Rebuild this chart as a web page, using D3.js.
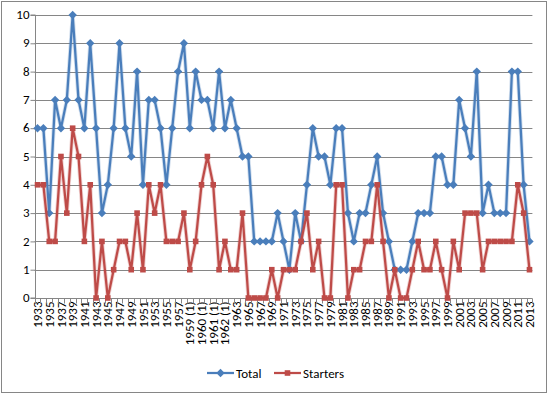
<!DOCTYPE html>
<html>
<head>
<meta charset="utf-8">
<script src="https://cdn.jsdelivr.net/npm/d3@7/dist/d3.min.js"></script>
<style>
  body { margin: 0; background: #fff; }
  text { font-family: Carlito, Calibri, Lato, sans-serif; fill: #000; }
</style>
</head>
<body>
<svg id="chart" width="549" height="395"></svg>
<script>
// categories (two All-Star games a year in 1959-1962)
const categories = [
  "1933","1934","1935","1936","1937","1938","1939","1940","1941","1942",
  "1943","1944","1945","1946","1947","1948","1949","1950","1951","1952",
  "1953","1954","1955","1956","1957","1958",
  "1959 (1)","1959 (2)","1960 (1)","1960 (2)","1961 (1)","1961 (2)","1962 (1)","1962 (2)",
  "1963","1964","1965","1966","1967","1968","1969","1970","1971","1972",
  "1973","1974","1975","1976","1977","1978","1979","1980","1981","1982",
  "1983","1984","1985","1986","1987","1988","1989","1990","1991","1992",
  "1993","1994","1995","1996","1997","1998","1999","2000","2001","2002",
  "2003","2004","2005","2006","2007","2008","2009","2010","2011","2012","2013"
];

const total = [
  6,6,3,7,6,7,10,7,6,9,
  6,3,4,6,9,6,5,8,4,7,
  7,6,4,6,8,9,
  6,8,7,7,6,8,6,7,
  6,5,5,2,2,2,2,3,2,1,
  3,2,4,6,5,5,4,6,6,3,
  2,3,3,4,5,3,2,1,1,1,
  2,3,3,3,5,5,4,4,7,6,
  5,8,3,4,3,3,3,8,8,4,2
];

const starters = [
  4,4,2,2,5,3,6,5,2,4,
  0,2,0,1,2,2,1,3,1,4,
  3,4,2,2,2,3,
  1,2,4,5,4,1,2,1,
  1,3,0,0,0,0,1,0,1,1,
  1,2,3,1,2,0,0,4,4,0,
  1,1,2,2,4,2,0,1,0,0,
  1,2,1,1,2,1,0,2,1,3,
  3,3,1,2,2,2,2,2,4,3,1
];

const yTicks = [0,1,2,3,4,5,6,7,8,9,10];
const tickLabels = categories.filter((d, i) => i % 2 === 0);

const blue = "#4a7ebb";
const red = "#be4b48";
const gridColor = "#868686";

const svg = d3.select("#chart");

// outer chart border
svg.append("rect")
  .attr("x", 1.5).attr("y", 1.5)
  .attr("width", 545).attr("height", 391)
  .attr("fill", "#fff")
  .attr("stroke", gridColor);

const plotLeft = 34.6, plotRight = 532.4, plotTop = 15, plotBottom = 298;

const x = d3.scaleBand().domain(categories).range([plotLeft, plotRight]);
const cx = d => x(d) + x.bandwidth() / 2;
const y = d3.scaleLinear().domain([0, 10]).range([plotBottom, plotTop]);

// horizontal gridlines
svg.append("g")
  .selectAll("line")
  .data(yTicks.filter(d => d > 0))
  .enter().append("line")
  .attr("x1", plotLeft).attr("x2", plotRight)
  .attr("y1", d => Math.round(y(d)) + 0.5)
  .attr("y2", d => Math.round(y(d)) + 0.5)
  .attr("stroke", gridColor);

// y axis
const yAxis = svg.append("g")
  .attr("transform", `translate(${Math.round(plotLeft) + 0.5},0)`)
  .call(d3.axisLeft(y).tickValues(yTicks).tickSize(5).tickPadding(4).offset(0));
yAxis.select(".domain").attr("stroke", gridColor);
yAxis.selectAll(".tick line").attr("stroke", gridColor)
  .attr("transform", "translate(0,0.5)");
yAxis.selectAll(".tick text")
  .style("font-size", "13px")
  .attr("x", -6);

// x axis: labels on every other category, tick marks on every boundary
const xAxis = svg.append("g")
  .attr("transform", `translate(0,${plotBottom + 0.5})`)
  .call(d3.axisBottom(x).tickValues(tickLabels).tickSize(0).offset(0));
xAxis.select(".domain").attr("stroke", gridColor);
xAxis.selectAll(".tick text")
  .style("font-size", "13px")
  .attr("text-anchor", "end")
  .attr("transform", "rotate(-90)")
  .attr("x", -3)
  .attr("y", 0)
  .attr("dy", "0.35em");

xAxis.append("g")
  .selectAll("line")
  .data(categories.map(d => x(d)).concat([plotRight]))
  .enter().append("line")
  .attr("x1", d => Math.round(d) + 0.5).attr("x2", d => Math.round(d) + 0.5)
  .attr("y1", 0).attr("y2", 5)
  .attr("stroke", gridColor);

// series lines
const line = d3.line().x((d, i) => cx(categories[i])).y(d => y(d));

function drawSeries(values, color, marker) {
  const g = svg.append("g");
  g.append("path")
    .datum(values)
    .attr("fill", "none")
    .attr("stroke", color)
    .attr("stroke-opacity", 0.25)
    .attr("stroke-width", 4)
    .attr("stroke-linejoin", "round")
    .attr("d", line);
  g.append("path")
    .datum(values)
    .attr("fill", "none")
    .attr("stroke", color)
    .attr("stroke-width", 2.25)
    .attr("stroke-linejoin", "round")
    .attr("d", line);
  g.selectAll("path.marker")
    .data(values)
    .enter().append("path")
    .attr("class", "marker")
    .attr("fill", color)
    .attr("transform", (d, i) => `translate(${cx(categories[i])},${y(d)})`)
    .attr("d", marker);
}

const diamond = "M0,-4.2L4.2,0L0,4.2L-4.2,0Z";
const square = "M-2.8,-2.8H2.8V2.8H-2.8Z";

drawSeries(total, blue, diamond);
drawSeries(starters, red, square);

// legend
const legend = svg.append("g").attr("transform", "translate(0,373)");
const items = [
  { name: "Total", color: blue, marker: diamond, x: 207 },
  { name: "Starters", color: red, marker: square, x: 274 }
];
items.forEach(it => {
  legend.append("line")
    .attr("x1", it.x).attr("x2", it.x + 27)
    .attr("y1", 0).attr("y2", 0)
    .attr("stroke", it.color).attr("stroke-width", 2.25);
  legend.append("path")
    .attr("transform", `translate(${it.x + 13.5},0)`)
    .attr("fill", it.color)
    .attr("d", it.marker);
  legend.append("text")
    .attr("x", it.x + 29).attr("y", 0)
    .attr("dy", "0.35em")
    .style("font-size", "13px")
    .text(it.name);
});
</script>
</body>
</html>
